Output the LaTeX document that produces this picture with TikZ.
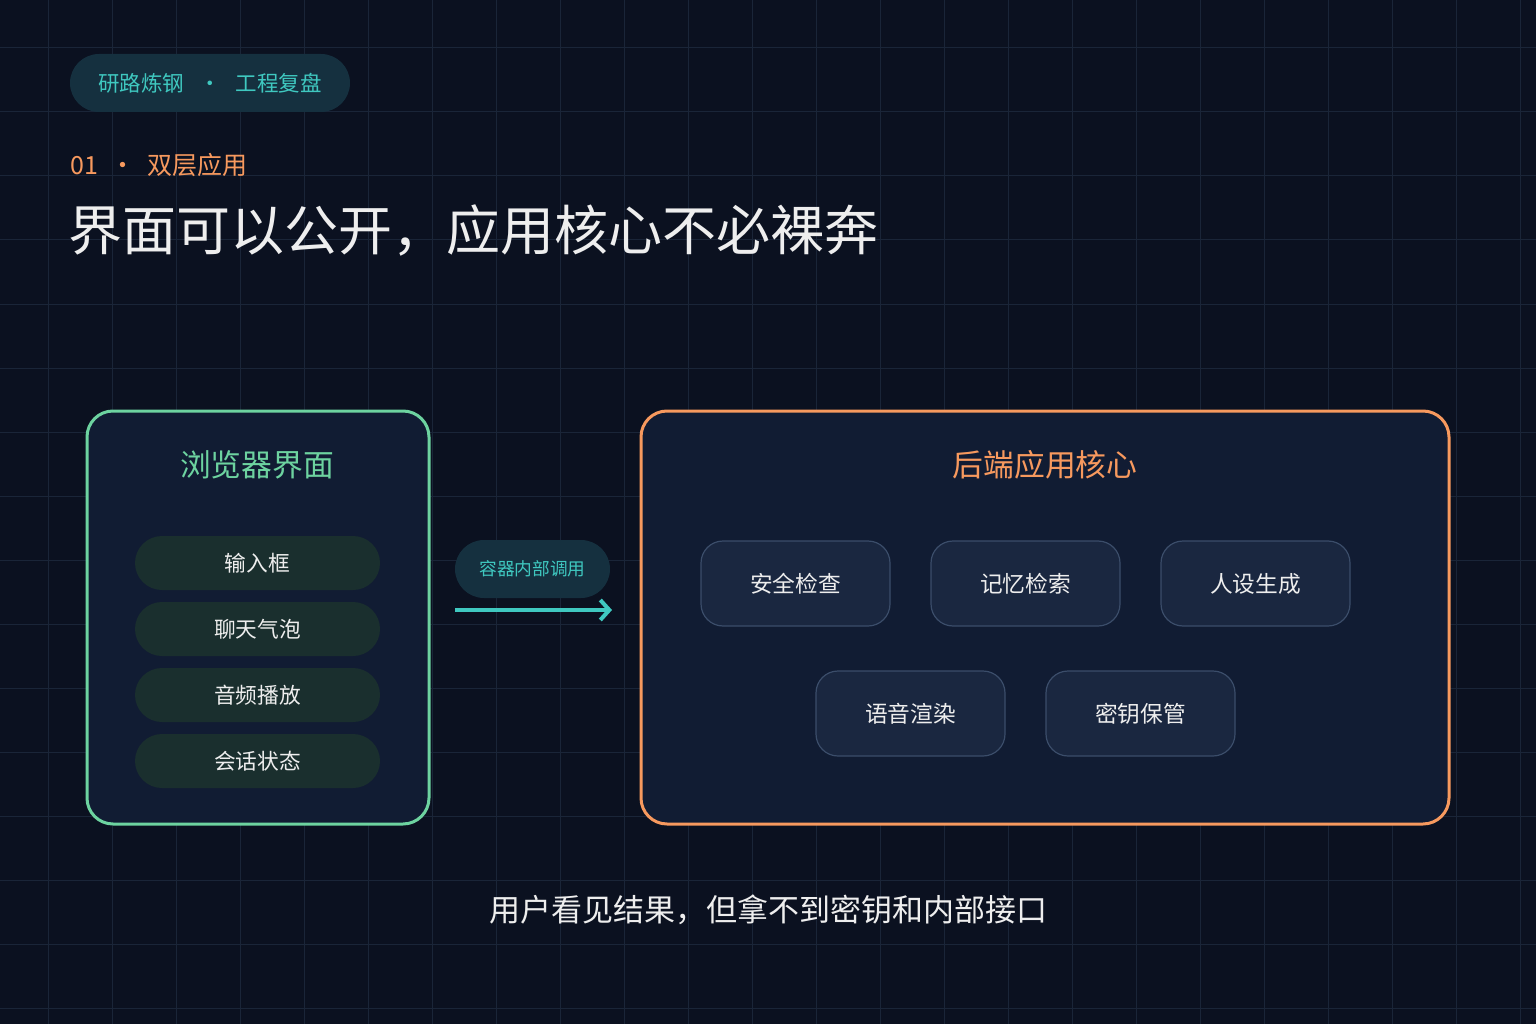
\documentclass[tikz,border=0pt]{standalone}
\usepackage{fontspec}
\setmainfont{Noto Sans CJK SC}
\usetikzlibrary{arrows.meta}
\definecolor{bg}{HTML}{0B1120}
\definecolor{gridc}{HTML}{1A2538}
\definecolor{panel}{HTML}{111C33}
\definecolor{teal}{HTML}{3FC8C0}
\definecolor{tealbg}{HTML}{15303F}
\definecolor{orangec}{HTML}{F7995E}
\definecolor{greenc}{HTML}{6DD3A0}
\definecolor{pillg}{HTML}{1A2F2E}
\definecolor{cardbg}{HTML}{1A2740}
\definecolor{cardbd}{HTML}{3B4D6A}
\definecolor{txt}{HTML}{EEEEEE}
\tikzset{
  pillbox/.style={fill=pillg, rounded corners=27pt, minimum width=245pt, minimum height=54pt, text=txt, font=\fontsize{21.7}{25}\selectfont, inner sep=0pt},
  cardbox/.style={fill=cardbg, draw=cardbd, line width=1.2pt, rounded corners=22pt, minimum width=189pt, minimum height=85pt, text=txt, font=\fontsize{22.7}{26}\selectfont, inner sep=0pt},
}
\begin{document}
\begin{tikzpicture}[x=1pt,y=-1pt]
\fill[bg] (0,0) rectangle (1536,1024);
\useasboundingbox (0,0) rectangle (1536,1024);
\foreach \i in {0,...,23} {\draw[gridc, line width=1pt] (48+64*\i,0) -- (48+64*\i,1024);}
\foreach \j in {0,...,15} {\draw[gridc, line width=1pt] (0,48+64*\j) -- (1536,48+64*\j);}
% badge
\node[fill=tealbg, rounded corners=29pt, minimum width=280pt, minimum height=58pt, inner sep=0pt, text=teal, font=\fontsize{21.5}{25}\selectfont] (badge) at (210,83) {研路炼钢\hspace{0.7em}·\hspace{0.7em}工程复盘};
\node[anchor=west, text=orangec, font=\fontsize{25}{29}\selectfont, inner sep=0pt] (sec) at (70,165) {01\hspace{0.5em}·\hspace{0.5em}双层应用};
\node[anchor=west, text=txt, font=\fontsize{54}{60}\selectfont, inner sep=0pt] (title) at (68,230) {界面可以公开，应用核心不必裸奔};
% left panel
\node[draw=greenc, fill=panel, line width=3pt, rounded corners=26pt, minimum width=342pt, minimum height=413pt, inner sep=0pt] (left) at (258,617.5) {};
\node[text=greenc, font=\fontsize{30.8}{34}\selectfont, inner sep=0pt] (lt) at (257,465) {浏览器界面};
\node[pillbox] (p1) at (257.5,563) {输入框};
\node[pillbox] (p2) at (257.5,629) {聊天气泡};
\node[pillbox] (p3) at (257.5,695) {音频播放};
\node[pillbox] (p4) at (257.5,761) {会话状态};
% right panel
\node[draw=orangec, fill=panel, line width=3pt, rounded corners=26pt, minimum width=808pt, minimum height=413pt, inner sep=0pt] (right) at (1045,617.5) {};
\node[text=orangec, font=\fontsize{30.8}{34}\selectfont, inner sep=0pt] (rt) at (1045,465) {后端应用核心};
\node[cardbox] (c1) at (795.5,583.5) {安全检查};
\node[cardbox] (c2) at (1025.5,583.5) {记忆检索};
\node[cardbox] (c3) at (1255.5,583.5) {人设生成};
\node[cardbox] (c4) at (910.5,713.5) {语音渲染};
\node[cardbox] (c5) at (1140.5,713.5) {密钥保管};
% connector
\node[fill=tealbg, rounded corners=29pt, minimum width=155pt, minimum height=58pt, inner sep=0pt, text=teal, font=\fontsize{17.7}{21}\selectfont] (call) at (532.5,569) {容器内部调用};
\coordinate (a1) at (455,610);
\coordinate (a2) at (612,610);
\draw[teal, line width=4pt, -{Straight Barb[length=9pt,width=20pt,line width=4pt]}] (a1) -- (a2);
\node[text=txt, font=\fontsize{31}{35}\selectfont, inner sep=0pt] (foot) at (768,910) {用户看见结果，但拿不到密钥和内部接口};
\end{tikzpicture}
\end{document}
